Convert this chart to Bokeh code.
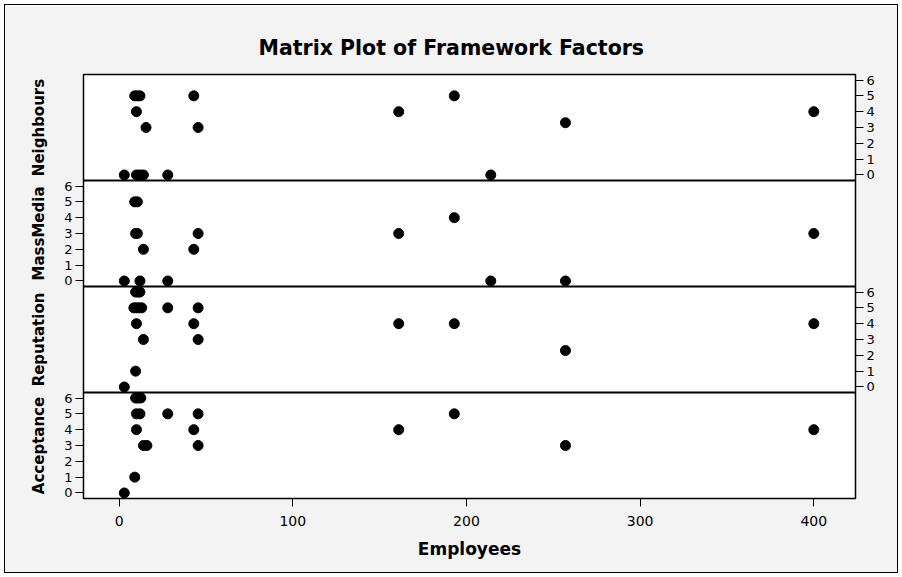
import math
from bokeh.plotting import figure
from bokeh.models import Range1d, LinearAxis, FixedTicker, Span
from bokeh.layouts import column
from bokeh.embed import file_html
from bokeh.resources import INLINE

# ---- data ----
employee_ticks = [0, 100, 200, 300, 400]
factor_ticks = [0, 1, 2, 3, 4, 5, 6]

neighbours_emp = [9, 10.5, 12, 43, 10, 15.5, 45.5, 3, 10, 12, 14, 28, 161, 193, 214, 257, 400]
neighbours_val = [5, 5, 5, 5, 4, 3, 3, 0, 0, 0, 0, 0, 4, 5, 0, 3.3, 4]

massmedia_emp = [9, 10.5, 9.5, 10.5, 14, 43, 45.5, 3, 12, 28, 161, 193, 214, 257, 400]
massmedia_val = [5, 5, 3, 3, 2, 2, 3, 0, 0, 0, 3, 4, 0, 0, 3]

reputation_emp = [9.5, 11, 12, 8.5, 10, 11.5, 13, 28, 45.5, 10, 43, 14, 45.5, 9.5, 3, 161, 193, 257, 400]
reputation_val = [6, 6, 6, 5, 5, 5, 5, 5, 5, 4, 4, 3, 3, 1, 0, 4, 4, 2.3, 4]

acceptance_emp = [9.5, 11, 12.5, 10, 12, 28, 45.5, 10, 43, 14, 16, 45.5, 9, 3, 161, 193, 257, 400]
acceptance_val = [6, 6, 6, 5, 5, 5, 5, 4, 4, 3, 3, 3, 1, 0, 4, 5, 3, 4]

# panels listed from the bottom up; side = where its value axis is drawn
panels = [
    ("Acceptance", acceptance_emp, acceptance_val, "left"),
    ("Reputation", reputation_emp, reputation_val, "right"),
    ("MassMedia", massmedia_emp, massmedia_val, "left"),
    ("Neighbours", neighbours_emp, neighbours_val, "right"),
]

BG = "#f3f3f3"
FONT = "DejaVu Sans"
W, H = 892, 567
FL, FR, FT, FB = 78, 42, 69, 74

X0, X1 = -20.5, 424
LO, SPAN = -0.35, 6.7          # each panel shows values LO .. LO+SPAN
UNIT = 20                        # combined (stacked) axis: 20 steps per value unit
PSTEP = int(round(SPAN * UNIT))  # 134 steps per panel
BASE = int(round(-LO * UNIT))    # 7
NP = len(panels)
YMAX = NP * PSTEP

p = figure(
    width=W, height=H,
    x_range=Range1d(X0, X1), y_range=Range1d(0, YMAX),
    output_backend="svg", toolbar_location=None,
    x_axis_location=None, y_axis_location=None,
    min_border=0, min_border_left=FL, min_border_right=FR,
    min_border_top=FT, min_border_bottom=FB,
    background_fill_color="white", border_fill_color=BG,
    outline_line_color="black", outline_line_width=1.5,
)
p.xgrid.visible = False
p.ygrid.visible = False

p.title.text = "Matrix Plot of Framework Factors"
p.title.align = "left"
p.title.offset = 175
p.title.text_font = FONT
p.title.text_font_size = "20.5px"
p.title.text_font_style = "bold"
p.title.text_color = "black"
p.title.standoff = 30

extra = {}
left_ticks, left_over = [], {}
right_ticks, right_over = [], {}
name_ticks, name_over = [], {}
for k, (name, xs, ys, side) in enumerate(panels):
    extra[name] = Range1d(LO - k * SPAN, LO - k * SPAN + NP * SPAN)
    mid = PSTEP * k + PSTEP // 2
    name_ticks.append(mid)
    name_over[mid] = name
    for v in factor_ticks:
        t = BASE + PSTEP * k + UNIT * v
        if side == "left":
            left_ticks.append(t)
            left_over[t] = str(v)
        else:
            right_ticks.append(t)
            right_over[t] = str(v)
p.extra_y_ranges = extra


def value_axis(ticks, over):
    return LinearAxis(
        ticker=FixedTicker(ticks=ticks),
        major_label_overrides=over,
        axis_line_color=None,
        major_tick_out=8, major_tick_in=0,
        minor_tick_line_color=None,
        major_tick_line_color="black",
        major_label_text_font=FONT,
        major_label_text_font_size="13px",
        major_label_text_color="black",
        major_label_standoff=3,
    )


p.add_layout(value_axis(left_ticks, left_over), "left")
p.add_layout(value_axis(right_ticks, right_over), "right")

# outer left axis carrying the panel names
name_axis = LinearAxis(
    ticker=FixedTicker(ticks=name_ticks),
    major_label_overrides=name_over,
    major_label_orientation="parallel",
    axis_line_color=None,
    major_tick_out=0, major_tick_in=0,
    major_tick_line_color=None,
    minor_tick_line_color=None,
    major_label_text_font=FONT,
    major_label_text_font_size="15px",
    major_label_text_font_style="bold",
    major_label_text_color="black",
    major_label_standoff=14,
)
p.add_layout(name_axis, "left")

xa = LinearAxis(
    ticker=FixedTicker(ticks=employee_ticks),
    axis_line_color=None,
    major_tick_out=8, major_tick_in=0,
    minor_tick_line_color=None,
    major_tick_line_color="black",
    major_label_text_font=FONT,
    major_label_text_font_size="14px",
    major_label_text_color="black",
    major_label_standoff=9,
    axis_label="Employees",
    axis_label_text_font=FONT,
    axis_label_text_font_size="17px",
    axis_label_text_font_style="bold",
    axis_label_text_color="black",
    axis_label_standoff=10,
)
p.add_layout(xa, "below")

for k in range(1, NP):
    p.add_layout(Span(location=PSTEP * k, dimension="width", line_color="black", line_width=2))

for k, (name, xs, ys, side) in enumerate(panels):
    p.scatter(xs, ys, y_range_name=name, size=10, color="black")

layout = column(p, margin=4, styles={"border": "1px solid black"})

open("out.html", "w").write(file_html(layout, INLINE))
